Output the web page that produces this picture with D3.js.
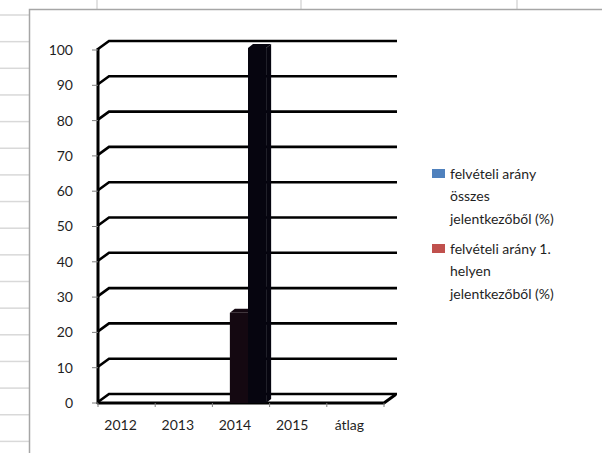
<!DOCTYPE html>
<html lang="hu">
<head>
    <meta charset="UTF-8">
    <title>felvételi arány</title>
    <style>
        body { margin: 0; background: #ffffff; }
        svg text { font-family: Lato, "Open Sans", sans-serif; fill: #1f1f1f; }
    </style>
</head>
<body>
<div id="chart"></div>
<script src="https://d3js.org/d3.v7.min.js"></script>
<script>
    // chart data
    const categories = ["2012", "2013", "2014", "2015", "átlag"];
    const seriesNames = ["felvételi arány összes jelentkezőből (%)", "felvételi arány 1. helyen jelentkezőből (%)"];
    const legendLines = [["felvételi arány", "összes", "jelentkezőből (%)"], ["felvételi arány 1.", "helyen", "jelentkezőből (%)"]];
    const totalRate = [null, null, 25, null, null];
    const firstPlaceRate = [null, null, 100, null, null];
    const legendColors = ["#4f81bd", "#c0504d"];
    const barColors = ["#140811", "#06050f"];

    const svg = d3.select("#chart").append("svg")
        .attr("width", 602)
        .attr("height", 453);

    // spreadsheet cells behind the chart
    const rowLines = d3.range(0, 17).map(i => 15 + i * 26.65);
    svg.selectAll(".row").data(rowLines).enter().append("line")
        .attr("x1", 0).attr("x2", 29)
        .attr("y1", d => d).attr("y2", d => d)
        .attr("stroke", "#d9d9d9").attr("stroke-width", 1.5);
    svg.selectAll(".col").data([97, 301, 517]).enter().append("line")
        .attr("x1", d => d).attr("x2", d => d)
        .attr("y1", 0).attr("y2", 10)
        .attr("stroke", "#d9d9d9").attr("stroke-width", 1.5);

    svg.append("rect")
        .attr("x", 29.5).attr("y", 9.5)
        .attr("width", 700).attr("height", 500)
        .attr("fill", "#ffffff")
        .attr("stroke", "#a6a6a6")
        .attr("stroke-width", 1.5);

    // 3d geometry: front plane + depth offset to the back wall
    const depthX = 11, depthY = -9;
    const x = d3.scaleBand().domain(categories).range([98, 384]);
    const y = d3.scaleLinear().domain([0, 100]).range([403, 50]);
    const yTicks = y.ticks(10);

    // back wall gridlines with the left wall bend
    const grid = svg.append("g");
    yTicks.forEach(t => {
        grid.append("path")
            .attr("d", d3.line()([[98, y(t) - 1], [98 + depthX, y(t) + depthY], [397, y(t) + depthY]]))
            .attr("fill", "none")
            .attr("stroke", "#000")
            .attr("stroke-width", 2.6);
    });

    // left wall edge
    svg.append("line")
        .attr("x1", 98).attr("x2", 98)
        .attr("y1", y(100) - 2).attr("y2", y(0) + 1)
        .attr("stroke", "#000").attr("stroke-width", 3);

    // floor front edge
    svg.append("path")
        .attr("d", d3.line()([[98, y(0)], [384, y(0)], [395, y(0) + depthY + 1]]))
        .attr("fill", "none")
        .attr("stroke", "#000")
        .attr("stroke-width", 3)
        .attr("stroke-linecap", "round");

    // y axis ticks and labels
    svg.selectAll(".ytick").data(yTicks).enter().append("line")
        .attr("x1", 92).attr("x2", 98)
        .attr("y1", d => y(d)).attr("y2", d => y(d))
        .attr("stroke", "#7f7f7f").attr("stroke-width", 1);
    svg.selectAll(".ylabel").data(yTicks).enter().append("text")
        .attr("x", 73)
        .attr("y", d => y(d))
        .attr("dy", "0.35em")
        .attr("text-anchor", "end")
        .style("font-size", "14px")
        .text(d => d);

    // x axis ticks and labels
    const xEdges = categories.map(c => x(c)).concat([x.range()[1]]);
    svg.selectAll(".xtick").data(xEdges).enter().append("line")
        .attr("x1", d => d).attr("x2", d => d)
        .attr("y1", y(0)).attr("y2", y(0) + 4)
        .attr("stroke", "#7f7f7f").attr("stroke-width", 1);
    svg.selectAll(".xlabel").data(categories).enter().append("text")
        .attr("x", d => x(d) + x.bandwidth() / 2 - 6)
        .attr("y", 425)
        .attr("dy", "0.35em")
        .attr("text-anchor", "middle")
        .style("font-size", "14px")
        .text(d => d);

    // 3d columns
    const barY = d3.scaleLinear().domain([0, 100]).range([401, 48]);
    const barW = x.bandwidth() * 0.317;
    const barDepthX = 5, barDepthY = -4;
    const gap = (x.bandwidth() - 2 * barW) / 2;
    [totalRate, firstPlaceRate].forEach((vals, s) => {
        vals.forEach((v, i) => {
            if (v == null) return;
            const x0 = x(categories[i]) + gap + 7 + s * barW;
            const x1 = x0 + barW;
            const top = barY(v);
            const bottom = y(0);
            const g = svg.append("g").attr("class", "bar");
            // top face
            g.append("path")
                .attr("d", d3.line()([[x0, top], [x0 + barDepthX, top + barDepthY], [x1 + barDepthX, top + barDepthY], [x1, top]]) + "Z")
                .attr("fill", barColors[s]);
            // side face
            g.append("path")
                .attr("d", d3.line()([[x1, top], [x1 + barDepthX, top + barDepthY], [x1 + barDepthX, bottom + barDepthY], [x1, bottom]]) + "Z")
                .attr("fill", barColors[s]);
            // front face
            g.append("rect")
                .attr("x", x0).attr("y", top)
                .attr("width", barW).attr("height", bottom - top)
                .attr("fill", barColors[s]);
        });
    });

    // legend
    const legend = svg.append("g").attr("class", "legend");
    seriesNames.forEach((name, i) => {
        const top = 169 + i * 75;
        legend.append("rect")
            .attr("x", 432).attr("y", top)
            .attr("width", 13).attr("height", 9)
            .attr("fill", legendColors[i]);
        legendLines[i].forEach((line, j) => {
            legend.append("text")
                .attr("x", 450)
                .attr("y", top + 5 + j * 22.5)
                .attr("dy", "0.35em")
                .style("font-size", "14px")
                .text(line);
        });
    });
</script>
</body>
</html>
